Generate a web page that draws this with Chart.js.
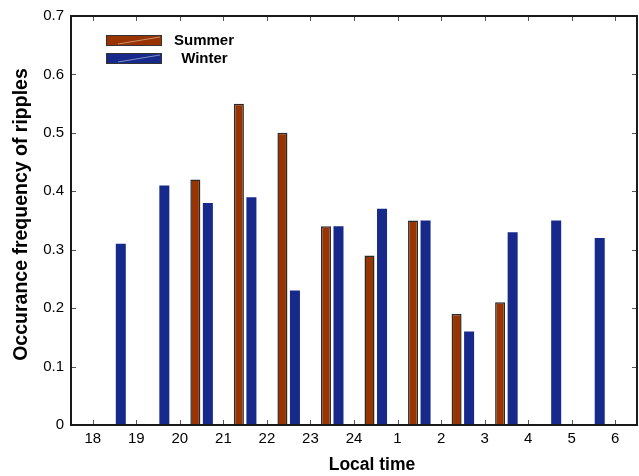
<!DOCTYPE html>
<html>
<head>
<meta charset="utf-8">
<script src="https://cdn.jsdelivr.net/npm/chart.js@4/dist/chart.umd.min.js"></script>
<style>
  html, body { margin: 0; padding: 0; background: #fff; }
  canvas { display: block; }
</style>
</head>
<body>
<canvas id="myChart" width="639" height="476"></canvas>
<script>
// TODO DATOS DEL GRAFICO
const horas = ["18", "19", "20", "21", "22", "23", "24", "1", "2", "3", "4", "5", "6"];
const intervalos = ["18-19", "19-20", "20-21", "21-22", "22-23", "23-24", "24-1", "1-2", "2-3", "3-4", "4-5", "5-6"];
const verano = [null, null, 0.42, 0.55, 0.50, 0.34, 0.29, 0.35, 0.19, 0.21, null, null];
const invierno = [0.31, 0.41, 0.38, 0.39, 0.23, 0.34, 0.37, 0.35, 0.16, 0.33, 0.35, 0.32];
const ticksY = [0, 0.1, 0.2, 0.3, 0.4, 0.5, 0.6, 0.7];

const tituloX = "Local time";
const tituloY = "Occurance frequency of ripples";

//! cada intervalo va centrado entre dos horas del eje
const aPuntos = (valores) => valores.map((v, i) => ({ x: horas.indexOf(intervalos[i].split("-")[0]) + 0.5, y: v }));

//! Marco con ticks hacia adentro, leyenda y titulos de los ejes
const marco = {
    id: "marco",
    afterDatasetsDraw(chart) {
        const { ctx, chartArea: a, scales: { x, y } } = chart;
        ctx.save();
        ctx.strokeStyle = "#555";
        ctx.lineWidth = 1;
        ctx.beginPath();
        x.ticks.forEach((t) => {
            const px = Math.round(x.getPixelForValue(t.value)) + 0.5;
            ctx.moveTo(px, a.bottom); ctx.lineTo(px, a.bottom - 5);
            ctx.moveTo(px, a.top); ctx.lineTo(px, a.top + 5);
        });
        y.ticks.forEach((t) => {
            const py = Math.round(y.getPixelForValue(t.value)) + 0.5;
            ctx.moveTo(a.left, py); ctx.lineTo(a.left + 5, py);
            ctx.moveTo(a.right, py); ctx.lineTo(a.right - 5, py);
        });
        ctx.stroke();
        ctx.strokeStyle = "#1a1a1a";
        ctx.lineWidth = 2;
        ctx.strokeRect(a.left, a.top, a.right - a.left, a.bottom - a.top);

        // leyenda
        ctx.font = "bold 15px 'Liberation Sans', Arial, sans-serif";
        ctx.textBaseline = "middle";
        ctx.textAlign = "left";
        chart.data.datasets.forEach((ds, i) => {
            const izq = a.left + 35;
            const arriba = a.top + 19 + i * 18;
            ctx.fillStyle = ds.backgroundColor;
            ctx.fillRect(izq, arriba, 56, 11);
            ctx.strokeStyle = "rgba(255,255,255,0.45)";
            ctx.lineWidth = 1;
            ctx.beginPath();
            ctx.moveTo(izq + 12, arriba + 9);
            ctx.lineTo(izq + 54, arriba + 2);
            ctx.stroke();
            ctx.strokeStyle = "#333";
            ctx.strokeRect(izq + 0.5, arriba + 0.5, 55, 10);
            ctx.fillStyle = "#000";
            ctx.fillText(ds.label, izq + 68 + i * 3, arriba + 6);
        });

        // titulos de los ejes
        ctx.fillStyle = "#000";
        ctx.textAlign = "center";
        ctx.font = "bold 17.5px 'Liberation Sans', Arial, sans-serif";
        ctx.fillText(tituloX, (a.left + a.right) / 2 + 18, 465);
        ctx.font = "bold 19.5px 'Liberation Sans', Arial, sans-serif";
        ctx.translate(22, (a.top + a.bottom) / 2 - 6);
        ctx.rotate(-Math.PI / 2);
        ctx.fillText(tituloY, 0, 0);
        ctx.restore();
    }
};

const chartDOM = document.getElementById("myChart");
const myChart = new Chart(chartDOM, {
    type: "bar",
    data: {
        datasets: [
            {
                label: "Summer",
                data: aPuntos(verano),
                backgroundColor: "#993300",
                borderColor: "#2a2a2a",
                borderWidth: 1.5
            },
            {
                label: " Winter",
                data: aPuntos(invierno),
                backgroundColor: "#172a8c",
                borderWidth: 0
            }
        ]
    },
    options: {
        responsive: false,
        animation: false,
        devicePixelRatio: 1,
        categoryPercentage: 0.575,
        barPercentage: 0.8,
        layout: { padding: { top: 16, right: 2, left: 0, bottom: 0 } },
        plugins: { legend: { display: false }, tooltip: { enabled: false } },
        scales: {
            x: {
                type: "linear",
                min: -0.5,
                max: 12.5,
                offset: false,
                grid: { display: false, drawTicks: false },
                border: { display: false },
                afterBuildTicks: (s) => { s.ticks = horas.map((h, i) => ({ value: i })); },
                afterFit: (s) => { s.height = 51; },
                ticks: {
                    callback: (v) => horas[v],
                    color: "#000",
                    padding: 5,
                    maxRotation: 0,
                    font: { family: "'Liberation Sans', Arial, sans-serif", size: 15 }
                }
            },
            y: {
                min: 0,
                max: 0.7,
                grid: { display: false, drawTicks: false },
                border: { display: false },
                afterBuildTicks: (s) => { s.ticks = ticksY.map((v) => ({ value: v })); },
                afterFit: (s) => { s.width = 71; },
                ticks: {
                    callback: (v) => (v === 0 ? "0" : v.toFixed(1)),
                    color: "#000",
                    padding: 7,
                    font: { family: "'Liberation Sans', Arial, sans-serif", size: 15 }
                }
            }
        }
    },
    plugins: [marco]
});
</script>
</body>
</html>
